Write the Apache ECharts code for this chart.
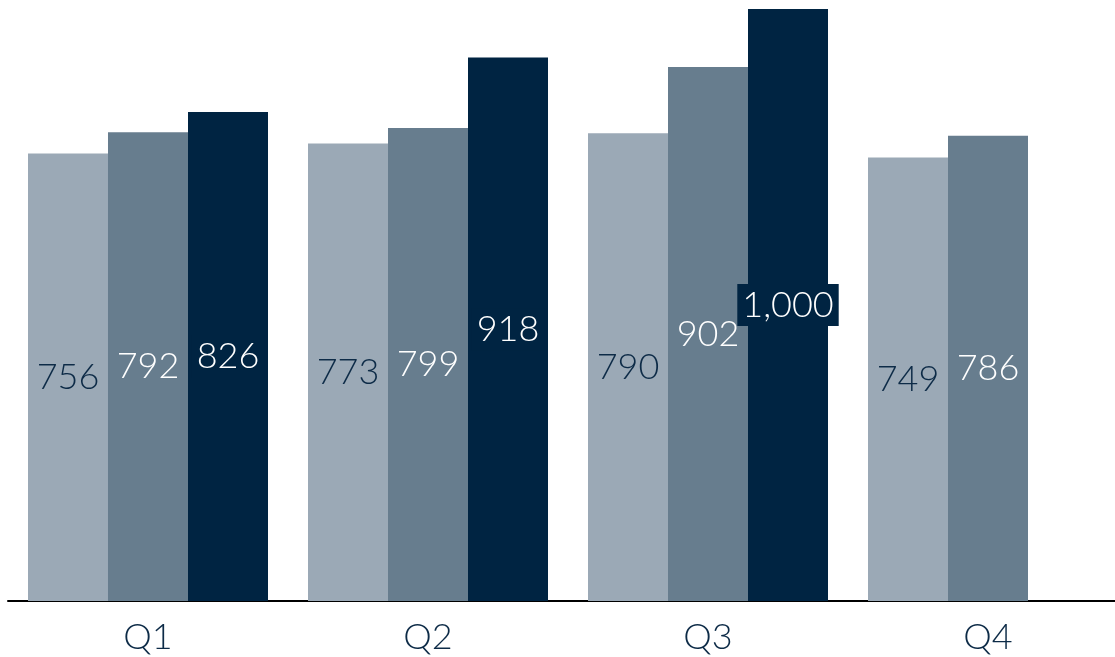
<!DOCTYPE html>
<html>
<head>
<meta charset="utf-8">
<script src="https://cdn.jsdelivr.net/npm/echarts@6/dist/echarts.min.js"></script>
<style>
  html, body { margin: 0; padding: 0; background: #fff; }
  #chart { width: 1115px; height: 657px; }
</style>
</head>
<body>
<div id="chart"></div>
<script>
const quarters = ['Q1', 'Q2', 'Q3', 'Q4']
const seriesA = [756, 773, 790, 749]
const seriesB = [792, 799, 902, 786]
const seriesC = [826, 918, 1000, null]

const colors = ['#9ba9b6', '#677d8e', '#002442']
const labelColors = ['#0d2b47', '#ffffff', '#ffffff']
const font = 'Lato, "Open Sans", sans-serif'

function fmt(p) {
  return p.value == null ? '' : Number(p.value).toLocaleString('en-US')
}

function makeSeries(data, i) {
  return {
    type: 'bar',
    data: data,
    barGap: 0,
    barCategoryGap: '14.2857%',
    itemStyle: { color: colors[i] },
    label: {
      show: true,
      position: 'inside',
      formatter: fmt,
      color: labelColors[i],
      fontFamily: font,
      fontWeight: 300,
      fontSize: 36,
      backgroundColor: i === 2 ? colors[2] : 'transparent',
      padding: i === 2 ? [3, 5] : 0
    },
    emphasis: { disabled: true }
  }
}

const myChart = echarts.init(document.getElementById('chart'))
const option = {
  animation: false,
  grid: {
    left: 8,
    right: -13,
    top: 9,
    bottom: 56,
    outerBoundsMode: 'none'
  },
  xAxis: {
    type: 'category',
    data: quarters,
    axisTick: { show: false },
    axisLine: {
      lineStyle: { color: '#000', width: 2 }
    },
    axisLabel: {
      color: '#0d2b47',
      fontFamily: font,
      fontWeight: 300,
      fontSize: 36,
      margin: 18
    }
  },
  yAxis: {
    type: 'value',
    min: 0,
    max: 1000,
    show: false,
    splitLine: { show: false }
  },
  series: [seriesA, seriesB, seriesC].map(makeSeries)
}
myChart.setOption(option)
</script>
</body>
</html>
